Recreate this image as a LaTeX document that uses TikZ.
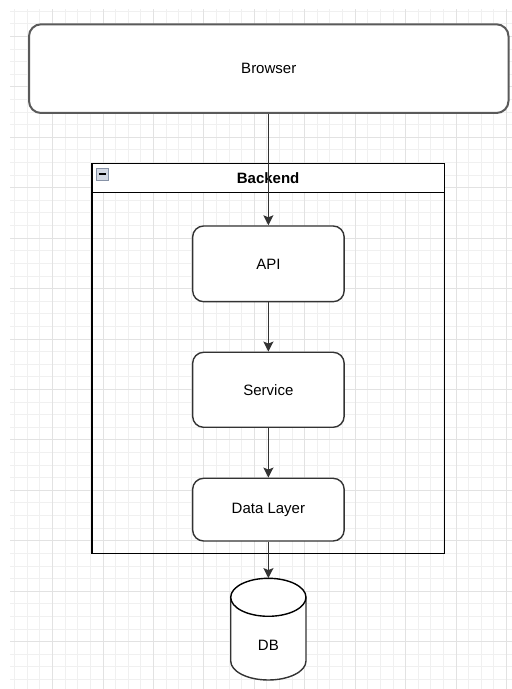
\documentclass[tikz,border=0pt]{standalone}
\usepackage{fontspec}
\setmainfont{Liberation Sans}
\usetikzlibrary{arrows.meta}
\definecolor{gridminor}{HTML}{F0F0F0}
\definecolor{gridmajor}{HTML}{E2E2E2}
\definecolor{stroke}{HTML}{333333}
\definecolor{browserstroke}{HTML}{5A5A5A}
\definecolor{iconfill}{HTML}{D3D9E4}
\definecolor{iconline}{HTML}{8792A6}
\tikzset{
  every node/.style={font=\fontsize{15}{18}\selectfont, text=black},
  block/.style={draw=stroke, line width=1.4pt, fill=white, rounded corners=11pt,
    minimum width=151.5pt, inner sep=0pt},
  flow/.style={draw=stroke, line width=1.4pt,
    -{Stealth[length=10pt, width=10pt, inset=2pt]}},
}
\begin{document}
\begin{tikzpicture}[x=1pt, y=1pt]
\useasboundingbox (0,0) rectangle (512,689);
\fill[white] (0,0) rectangle (512,689);

% background grid
\begin{scope}
  \clip (10,0) rectangle (512,680);
  \foreach \k in {-7,...,32}
    \draw[gridminor, line width=1pt] ({103+12.61*\k},0) -- ({103+12.61*\k},680);
  \foreach \k in {-10,...,43}
    \draw[gridminor, line width=1pt] (10,{551.7-12.61*\k}) -- (512,{551.7-12.61*\k});
  \foreach \k in {-2,...,8}
    \draw[gridmajor, line width=1pt] ({103+50.44*\k},0) -- ({103+50.44*\k},680);
  \foreach \k in {-2,...,10}
    \draw[gridmajor, line width=1pt] (10,{551.7-50.44*\k}) -- (512,{551.7-50.44*\k});
\end{scope}

% client
\node[draw=browserstroke, line width=2pt, fill=white, rounded corners=12pt,
      minimum width=479.5pt, minimum height=88.7pt, inner sep=0pt]
  (browser) at (268.75,620.35) {Browser};

% backend container: white header band, separator, then the frame
\node[minimum width=352.3pt, minimum height=390pt, inner sep=0pt, outer sep=0pt]
  (backend) at (268.15,330.7) {};
\fill[white] (backend.north west) rectangle ([yshift=-29pt]backend.north east);
\draw[stroke, line width=1.4pt] ([yshift=-29pt]backend.north west)
  -- ([yshift=-29pt]backend.north east);
\draw[stroke, line width=1.4pt] (backend.north west) rectangle (backend.south east);
\node[font=\fontsize{15}{18}\selectfont\bfseries] (title) at (268.15,510.5) {Backend};
\node[draw=iconline, fill=iconfill, line width=0.8pt, minimum size=12.4pt,
      inner sep=0pt] (fold) at (102.65,514.5) {};
\draw[stroke, line width=2pt] ([xshift=-3.8pt]fold.center) -- ([xshift=3.8pt]fold.center);

% layers
\node[block, minimum height=75.7pt] (api) at (268.4,425.15) {API};
\node[block, minimum height=75pt] (service) at (268.4,299.2) {Service};
\node[block, minimum height=62.7pt] (data) at (268.4,179.35) {Data Layer};

% database
\node[minimum width=75.3pt, minimum height=101.7pt, inner sep=0pt] (db) at (268.35,59.85) {};
\filldraw[fill=white, draw=stroke, line width=1.4pt]
  (230.7,91.7) -- (230.7,28)
  arc[start angle=180, end angle=360, x radius=37.65, y radius=19]
  -- (306,91.7);
\draw[stroke, line width=1.4pt, fill=white] (268.35,91.7) ellipse[x radius=37.65, y radius=19];
\node (dblabel) at (268.35,44) {DB};

% connectors
\draw[flow] (browser.south -| api.north) -- (api.north);
\draw[flow] (api.south) -- (service.north);
\draw[flow] (service.south) -- (data.north);
\draw[flow] (data.south) -- (db.north -| data.south);
\end{tikzpicture}
\end{document}
